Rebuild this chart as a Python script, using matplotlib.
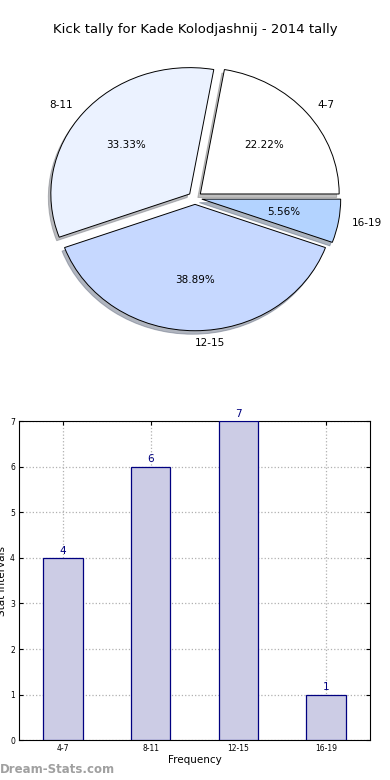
import matplotlib
matplotlib.use("Agg")
import matplotlib.pyplot as plt

categories = ["4-7", "8-11", "12-15", "16-19"]
counts = [4, 6, 7, 1]
pie_colors = ["#ffffff", "#ebf2ff", "#c6d8ff", "#b3d3ff"]
title = "Kick tally for Kade Kolodjashnij - 2014 tally"

fig = plt.figure(figsize=(3.9, 7.8), dpi=100)

# Pie chart (axes stretched horizontally like the reference)
ax1 = fig.add_axes([0.055, 0.5436, 0.89, 0.405])
wedges, texts, autotexts = ax1.pie(
    counts, labels=categories, colors=pie_colors, explode=[0.05] * 4,
    autopct="%1.2f%%", shadow={"ox": -0.013, "oy": -0.02, "shade": 0.5},
    startangle=0,
    wedgeprops=dict(edgecolor="black", linewidth=0.7),
    textprops=dict(fontsize=7.5))
ax1.set_xlim(-1.25, 1.25)
ax1.set_ylim(-1.25, 1.25)
ax1.set_aspect("auto")
ax1.set_title(title, fontsize=9.5, pad=5)

# Bar chart
ax2 = fig.add_axes([0.049, 0.051, 0.9, 0.409])
x = list(range(len(categories)))
ax2.bar(x, counts, width=0.45, color="#cccce5", edgecolor="#000080", linewidth=0.9, zorder=3)
for xi, c in zip(x, counts):
    ax2.text(xi, c + 0.05, str(c), ha="center", va="bottom", color="#000080", fontsize=7.5)
ax2.set_xlim(-0.5, 3.5)
ax2.set_ylim(0, 7)
ax2.set_xticks(x)
ax2.set_xticklabels(categories)
ax2.set_yticks(range(0, 8))
ax2.tick_params(labelsize=5.5, direction="in", top=True, right=True, length=3, pad=3)
ax2.grid(True, linestyle=":", color="#b0b0b0", linewidth=0.9, zorder=0)
ax2.set_xlabel("Frequency", fontsize=7.5, labelpad=1)
ax2.set_ylabel("Stat Intervals", fontsize=7.5, labelpad=2)

fig.text(0.0, 0.013, "Dream-Stats.com", fontsize=8.5, color="#a0a0a0", fontweight="bold", ha="left", va="center")

fig.savefig("out.png", dpi=100)
